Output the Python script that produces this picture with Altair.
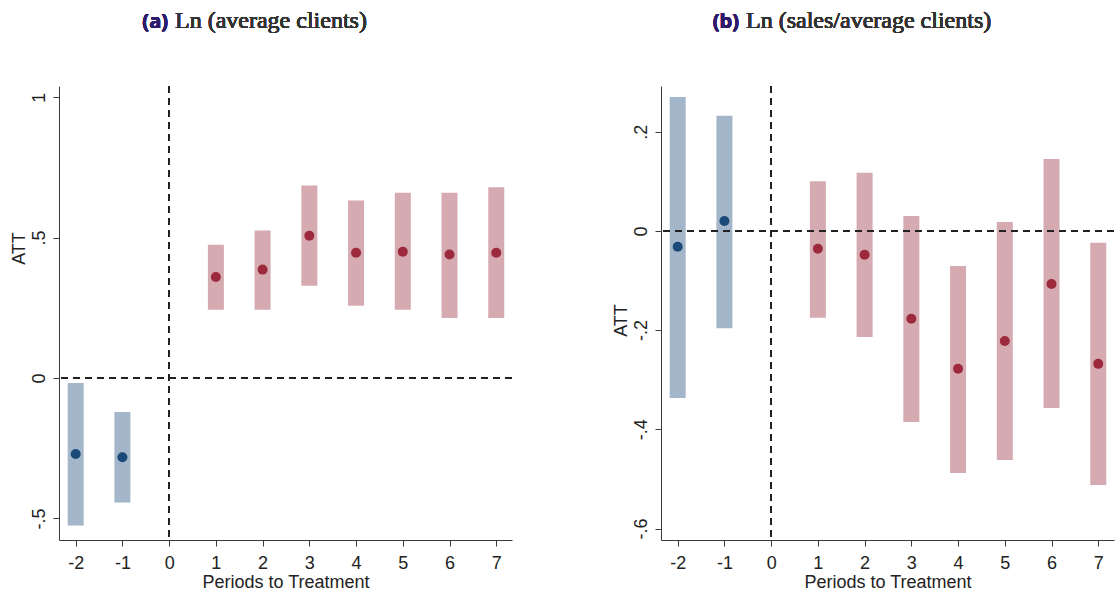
import altair as alt
import pandas as pd

# ---- data ----
periods = [-2, -1, 1, 2, 3, 4, 5, 6, 7]
x_ticks = [-2, -1, 0, 1, 2, 3, 4, 5, 6, 7]

a_att = [-0.271, -0.282, 0.360, 0.386, 0.507, 0.446, 0.450, 0.440, 0.446]
a_lo = [-0.525, -0.443, 0.243, 0.243, 0.329, 0.257, 0.243, 0.214, 0.214]
a_hi = [-0.018, -0.121, 0.475, 0.525, 0.686, 0.632, 0.660, 0.660, 0.679]
a_yticks = [-0.5, 0, 0.5, 1]

b_att = [-0.032, 0.020, -0.036, -0.048, -0.177, -0.278, -0.222, -0.107, -0.268]
b_lo = [-0.337, -0.196, -0.175, -0.214, -0.385, -0.488, -0.462, -0.357, -0.512]
b_hi = [0.270, 0.232, 0.100, 0.117, 0.030, -0.071, 0.018, 0.145, -0.024]
b_yticks = [-0.6, -0.4, -0.2, 0, 0.2]

titles_tag = ["(a)", "(b)"]
titles_text = ["Ln (average clients)", "Ln (sales/average clients)"]
x_title = "Periods to Treatment"
y_title = "ATT"

# ---- styles ----
BAR_PRE, BAR_POST = "#a4b6c9", "#d5aab0"
PT_PRE, PT_POST = "#1b4a78", "#9c2a3c"
AX = "#3a3a3a"
W, H = 453, 454

y_label_expr = ("datum.value == 0 ? '0' : (datum.value < 0 ? '-' : '') + "
                "replace(format(abs(datum.value), '.1~f'), '0.', '.')")
x_label_expr = "'' + datum.value"


def panel(att, lo, hi, ydom, yticks, tag, text, tx, att_y=None):
    df = pd.DataFrame({"period": periods, "att": att, "lo": lo, "hi": hi})
    base = alt.Chart(df)
    xenc = alt.X("period:Q",
                 scale=alt.Scale(domain=[-2.25, 7.23], nice=False, zero=False),
                 axis=alt.Axis(values=x_ticks, title=x_title, grid=False,
                               labelExpr=x_label_expr,
                               tickSize=6, labelPadding=8, titlePadding=1,
                               labelFontSize=18, titleFontSize=18,
                               labelFont="Liberation Sans", titleFont="Liberation Sans",
                               titleFontWeight="normal", domainColor=AX, tickColor=AX,
                               labelColor="#222", titleColor="#222", labelFlush=False))
    yaxis_kw = dict(values=yticks, title=y_title, grid=False, tickSize=6, labelPadding=5,
                    labelAngle=270, labelAlign="center", labelBaseline="bottom",
                    labelExpr=y_label_expr, titlePadding=2,
                    labelFontSize=18, titleFontSize=18,
                    labelFont="Liberation Sans", titleFont="Liberation Sans",
                    titleFontWeight="normal", domainColor=AX, tickColor=AX,
                    labelColor="#222", titleColor="#222")
    if att_y is not None:
        yaxis_kw["titleY"] = att_y
    yscale = alt.Scale(domain=ydom, nice=False, zero=False)

    bars = base.mark_bar(size=16).encode(
        x=xenc,
        y=alt.Y("lo:Q", scale=yscale, axis=alt.Axis(**yaxis_kw)),
        y2="hi:Q",
        color=alt.condition("datum.period < 0", alt.value(BAR_PRE), alt.value(BAR_POST)),
    )
    pts = base.mark_circle(size=100, opacity=1).encode(
        x="period:Q", y="att:Q",
        color=alt.condition("datum.period < 0", alt.value(PT_PRE), alt.value(PT_POST)),
    )
    hline = base.mark_rule(color="#222", strokeWidth=1.6, strokeDash=[7, 5]).encode(
        y=alt.datum(0))
    vline = base.mark_rule(color="#222", strokeWidth=1.6, strokeDash=[7, 5]).encode(
        x=alt.datum(0))
    t1 = base.mark_text(align="right", baseline="alphabetic", font="Open Sans",
                        fontWeight="bold", fontSize=20, color="#2d1b6b").encode(
        x=alt.value(tx), y=alt.value(-58), text=alt.value(tag))
    t2 = base.mark_text(align="left", baseline="alphabetic", font="Liberation Serif",
                        fontWeight="normal", fontSize=24, color="#333333").encode(
        x=alt.value(tx + 7), y=alt.value(-58), text=alt.value(text))
    return alt.layer(bars, hline, vline, pts, t1, t2).properties(width=W, height=H)


left = panel(a_att, a_lo, a_hi, [-0.577, 1.040], a_yticks, titles_tag[0], titles_text[0], 109, att_y=162)
right = panel(b_att, b_lo, b_hi, [-0.623, 0.292], b_yticks, titles_tag[1], titles_text[1], 78, att_y=234)

chart = alt.hconcat(left, right, spacing=99).properties(
    padding={"left": 10, "top": 9, "right": 0, "bottom": 0}
).configure_view(stroke=None)

chart.save("out.html", embed_options={"renderer": "svg", "actions": False})
